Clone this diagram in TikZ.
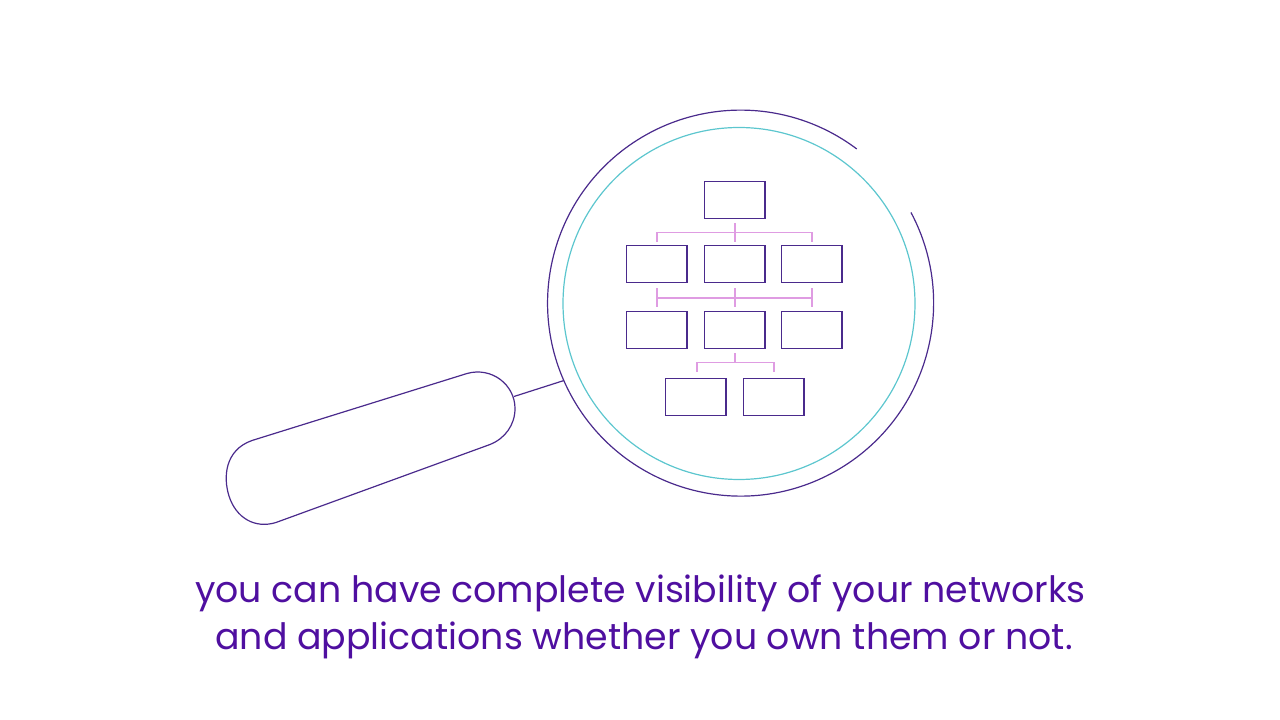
\documentclass[tikz,border=0pt]{standalone}
\usepackage{fontspec}
\setmainfont{Poppins}
\definecolor{lensline}{HTML}{4A2A8C}
\definecolor{lensteal}{HTML}{5CC6CE}
\definecolor{linkpink}{HTML}{DF9CE2}
\definecolor{captionpurple}{HTML}{4F0FA0}
\tikzset{
    orgbox/.style={draw=lensline,line width=1.2pt,inner sep=0pt,minimum width=60.5pt,minimum height=37pt},
    orglink/.style={draw=linkpink,line width=1.6pt},
    lens/.style={lensline,line width=1.2pt},
    caption/.style={text=captionpurple,font=\fontsize{36.3}{44}\selectfont,anchor=base,inner sep=0pt}
}
\begin{document}
\begin{tikzpicture}[x=1pt,y=1pt]
\useasboundingbox (0,0) rectangle (1280,720);
\draw[lensteal,line width=1.2pt] (739,416.5) circle (176);
\coordinate (rimstart) at (911,507.5);
\draw[lens] (rimstart) arc[start angle=28,end angle=-307,radius=193];
\draw[lens] (252,279.5) -- (467,346.5)
    .. controls (492,353.5) and (515,335) .. (515,311.5)
    .. controls (515,295) and (505,281.5) .. (490,275.5) -- (276,197.5)
    .. controls (255,191) and (236,202) .. (229,224)
    .. controls (223,243) and (225,270) .. (252,279.5) -- cycle;
\coordinate (shaftin) at (514,323.5);
\coordinate (shaftout) at (564,339.5);
\draw[lens] (shaftin) -- (shaftout);
\node[orgbox] (top) at (734.75,520) {};
\foreach \n/\x in {a/656.75,b/734.75,c/811.75} {
    \node[orgbox] (upper\n) at (\x,456) {};
    \node[orgbox] (lower\n) at (\x,390) {};
}
\node[orgbox] (lefty) at (695.75,323) {};
\node[orgbox] (righty) at (773.75,323) {};
\draw[orglink] ([yshift=3pt]uppera.north) |- ([yshift=-13.5pt]top.south) -| ([yshift=3pt]upperc.north);
\draw[orglink] ([yshift=-4pt]top.south) -- ([yshift=3pt]upperb.north);
\foreach \n in {a,b,c} {
    \draw[orglink] ([yshift=-5pt]upper\n.south) -- ([yshift=4pt]lower\n.north);
}
\draw[orglink] ([yshift=-15pt]uppera.south) -- ([yshift=-15pt]upperc.south);
\draw[orglink] ([xshift=1.5pt,yshift=6pt]lefty.north) |- ([yshift=-13.5pt]lowerb.south) -| ([yshift=6pt]righty.north);
\draw[orglink] ([yshift=-4pt]lowerb.south) -- ([yshift=-13.5pt]lowerb.south);
\node[caption] (lineone) at (640.5,117) {you can have complete visibility of your networks};
\node[caption] (linetwo) at (644,70) {and applications whether you own them or not.};
\end{tikzpicture}
\end{document}
